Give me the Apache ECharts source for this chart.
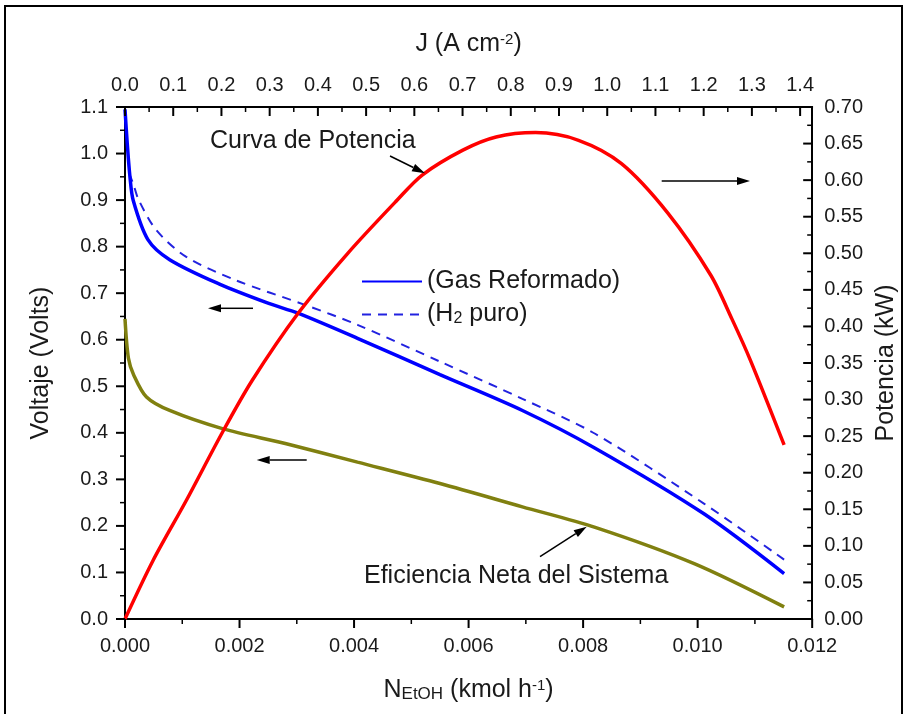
<!DOCTYPE html>
<html><head><meta charset="utf-8">
<script src="https://cdn.jsdelivr.net/npm/echarts@6/dist/echarts.min.js"></script>
<style>html,body{margin:0;padding:0;background:#fff}#c{width:907px;height:714px}</style>
</head><body><div id="c"></div>
<script>
// ---- data ----
const nGas = [0, 0.00004, 0.0000865, 0.000144, 0.0004, 0.00078, 0.00164, 0.00251, 0.00302, 0.00406, 0.0055, 0.00694, 0.00821, 0.01011, 0.01151];
const vGas = [1.095, 1.02, 0.95, 0.899, 0.815, 0.772, 0.72, 0.678, 0.657, 0.603, 0.525, 0.448, 0.367, 0.226, 0.0975];

const nH2 = [0.00007, 0.000144, 0.00024, 0.00055, 0.00107, 0.00193, 0.00314, 0.00406, 0.0055, 0.00694, 0.00821, 0.01011, 0.01151];
const vH2 = [0.958, 0.935, 0.9, 0.835, 0.778, 0.728, 0.675, 0.632, 0.553, 0.473, 0.398, 0.248, 0.1276];

const nEff = [0, 0.00006, 0.00015, 0.000375, 0.00078, 0.0017, 0.0028, 0.00406, 0.0055, 0.00694, 0.00821, 0.00994, 0.01151];
const vEff = [0.645, 0.56, 0.525, 0.477, 0.448, 0.409, 0.377, 0.337, 0.291, 0.241, 0.197, 0.119, 0.026];

const nPow = [0, 0.00049, 0.00107, 0.0017, 0.00222, 0.00302, 0.00389, 0.00475, 0.00519, 0.0059, 0.00648, 0.00717, 0.00792, 0.00867, 0.00948, 0.01023, 0.0106, 0.01092, 0.01151];
const pPow = [0, 0.08, 0.162, 0.255, 0.326, 0.4176, 0.5, 0.5725, 0.607, 0.641, 0.659, 0.665, 0.6545, 0.6226, 0.555, 0.47, 0.41, 0.354, 0.238];

const seriesNames = ['(Gas Reformado)', '(H2 puro)', 'Eficiencia Neta del Sistema', 'Curva de Potencia'];
// [min, max, major interval, minor interval]
const bottomRange = [0, 0.012, 0.002, 0.001];
const topRange = [0, 1.425, 0.1, 0.05];
const leftRange = [0, 1.1, 0.1, 0.05];
const rightRange = [0, 0.70, 0.05, 0.025];

// ---- chart ----
const FONT = 'Arial, "Liberation Sans", sans-serif';
const TXT = '#1a1a1a';
const zip = (a, b) => a.map((v, i) => [v, b[i]]);

function majorAxis(position, range, digits, margin) {
  return {
    type: 'value', position: position, min: range[0], max: range[1], interval: range[2],
    axisLine: { show: true, onZero: false, lineStyle: { color: '#000', width: 2 } },
    axisTick: { show: false },
    splitLine: { show: false },
    axisLabel: { fontFamily: FONT, fontSize: 20, color: TXT, margin: margin,
      formatter: v => (Math.abs(v / range[2] - Math.round(v / range[2])) < 1e-6 ? v.toFixed(digits) : '') }
  };
}
function tickValues(range) {
  const out = [];
  const n = Math.floor((range[1] - range[0]) / range[3] + 1e-6);
  for (let i = 0; i <= n; i++) {
    const v = Math.round((range[0] + i * range[3]) * 1e6) / 1e6;
    out.push({ v: v, major: i % Math.round(range[2] / range[3]) === 0 });
  }
  return out;
}

function arrow(x1, y1, x2, y2) {
  const dx = x2 - x1, dy = y2 - y1, L = Math.hypot(dx, dy), ux = dx / L, uy = dy / L;
  const hl = 13, hw = 4;
  const bx = x2 - ux * hl, by = y2 - uy * hl;
  return [
    { type: 'line', z: 50, shape: { x1: x1, y1: y1, x2: bx, y2: by }, style: { stroke: '#000', lineWidth: 1.5 } },
    { type: 'polygon', z: 50, shape: { points: [[x2, y2], [bx - uy * hw, by + ux * hw], [bx + uy * hw, by - ux * hw]] }, style: { fill: '#000' } }
  ];
}

const chart = echarts.init(document.getElementById('c'), null, { renderer: 'canvas' });

const xBottom = Object.assign(majorAxis('bottom', bottomRange, 3, 17), {
  name: 'N{sub|EtOH} (kmol h{sup|-1})', nameLocation: 'middle', nameGap: 59,
  nameTextStyle: { fontFamily: FONT, fontSize: 25, color: TXT, lineHeight: 25,
    rich: { sub: { fontFamily: FONT, fontSize: 17, color: TXT, verticalAlign: 'bottom', lineHeight: 20 },
            sup: { fontFamily: FONT, fontSize: 15, color: TXT, verticalAlign: 'top', lineHeight: 15 } } }
});
const xTop = Object.assign(majorAxis('top', topRange, 1, 12), {
  name: 'J (A cm{sup|-2})', nameLocation: 'middle', nameGap: 50,
  nameTextStyle: { fontFamily: FONT, fontSize: 25, color: TXT, lineHeight: 25,
    rich: { sup: { fontFamily: FONT, fontSize: 15, color: TXT, verticalAlign: 'top', lineHeight: 15 } } }
});
const yLeft = Object.assign(majorAxis('left', leftRange, 1, 17), {
  name: 'Voltaje (Volts)', nameLocation: 'middle', nameGap: 71,
  nameTextStyle: { fontFamily: FONT, fontSize: 25, color: TXT }
});
const yRight = Object.assign(majorAxis('right', rightRange, 2, 12), {
  name: 'Potencia (kW)', nameLocation: 'middle', nameGap: 55,
  nameTextStyle: { fontFamily: FONT, fontSize: 25, color: TXT }
});

const lineCommon = { type: 'line', symbol: 'none', showSymbol: false, smooth: 0.3, xAxisIndex: 0 };

chart.setOption({
  animation: false,
  backgroundColor: '#fff',
  grid: { left: 125, right: 88, top: 107, bottom: 95 },
  xAxis: [xBottom, xTop],
  yAxis: [yLeft, yRight],
  legend: {
    orient: 'vertical', left: 356, top: 264, itemWidth: 60, itemHeight: 14, itemGap: 8,
    data: [seriesNames[0], seriesNames[1]],
    itemStyle: { color: 'rgba(0,0,0,0)', borderWidth: 0, opacity: 0 },
    formatter: n => (n === '(H2 puro)' ? '(H{s|2} puro)' : n),
    textStyle: { fontFamily: FONT, fontSize: 25, color: TXT, lineHeight: 25,
      rich: { s: { fontFamily: FONT, fontSize: 16, color: TXT, verticalAlign: 'bottom', lineHeight: 20 } } }
  },
  series: [
    Object.assign({}, lineCommon, { name: seriesNames[0], yAxisIndex: 0, data: zip(nGas, vGas),
      lineStyle: { color: '#0000ff', width: 3.5 }, itemStyle: { color: '#0000ff' }, z: 3 }),
    Object.assign({}, lineCommon, { name: seriesNames[1], yAxisIndex: 0, data: zip(nH2, vH2),
      lineStyle: { color: '#2222e0', width: 2, type: [9, 7] }, itemStyle: { color: '#2222e0' }, z: 2 }),
    Object.assign({}, lineCommon, { name: seriesNames[2], yAxisIndex: 0, data: zip(nEff, vEff),
      lineStyle: { color: '#808010', width: 3.5 }, itemStyle: { color: '#808010' }, z: 3 }),
    Object.assign({}, lineCommon, { name: seriesNames[3], yAxisIndex: 1, data: zip(nPow, pPow),
      lineStyle: { color: '#ff0000', width: 3.5 }, itemStyle: { color: '#ff0000' }, z: 4 })
  ]
});

// ---- tick marks placed through the axes' own scales ----
const ticks = [];
function px(finder, v) { return chart.convertToPixel(finder, v); }
const yBot = px({ yAxisIndex: 0 }, leftRange[0]);
const yTopPx = px({ yAxisIndex: 0 }, leftRange[1]);
const xLeftPx = px({ xAxisIndex: 0 }, bottomRange[0]);
const xRightPx = px({ xAxisIndex: 0 }, bottomRange[1]);
function tickLine(x1, y1, x2, y2, major) {
  ticks.push({ type: 'line', z: 40, silent: true, shape: { x1: x1, y1: y1, x2: x2, y2: y2 },
    style: { stroke: '#000', lineWidth: major ? 2 : 1.5 } });
}
tickValues(bottomRange).forEach(t => { const x = px({ xAxisIndex: 0 }, t.v); tickLine(x, yBot, x, yBot + (t.major ? 9 : 5), t.major); });
tickValues(topRange).forEach(t => { const x = px({ xAxisIndex: 1 }, t.v); tickLine(x, yTopPx, x, yTopPx + (t.major ? 9 : 5), t.major); });
tickValues(leftRange).forEach(t => { const y = px({ yAxisIndex: 0 }, t.v); tickLine(xLeftPx, y, xLeftPx - (t.major ? 9 : 5), y, t.major); });
tickValues(rightRange).forEach(t => { const y = px({ yAxisIndex: 1 }, t.v); tickLine(xRightPx, y, xRightPx - (t.major ? 9 : 5), y, t.major); });

const graphics = [
  { type: 'rect', z: 100, silent: true, shape: { x: 5, y: 6, width: 897, height: 720 },
    style: { fill: 'rgba(0,0,0,0)', stroke: '#000', lineWidth: 2 } },
  { type: 'text', z: 50, x: 210, y: 141, style: { text: 'Curva de Potencia', fontFamily: FONT, fontSize: 25, fill: TXT, verticalAlign: 'middle' } },
  { type: 'text', z: 50, x: 364, y: 576, style: { text: 'Eficiencia Neta del Sistema', fontFamily: FONT, fontSize: 25, fill: TXT, verticalAlign: 'middle' } }
].concat(
  arrow(390, 156, 425, 173.3),
  arrow(661.7, 181, 750, 181),
  arrow(253, 308.3, 208, 308.3),
  arrow(306.7, 460, 256.7, 460),
  arrow(540, 556.7, 586.7, 526.7),
  ticks
);
chart.setOption({ graphic: graphics });
</script>
</body></html>
